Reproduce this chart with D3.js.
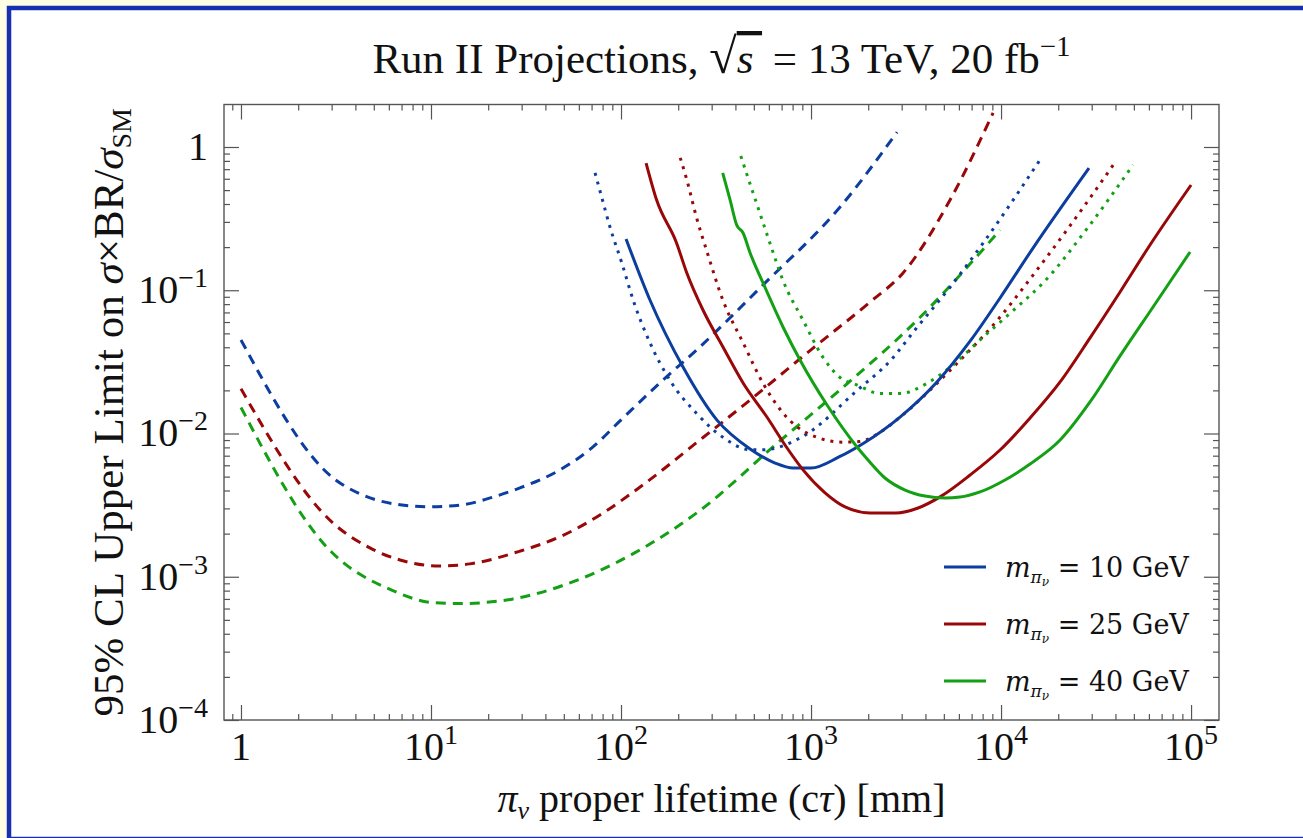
<!DOCTYPE html>
<html>
<head>
<meta charset="utf-8">
<script src="https://cdn.jsdelivr.net/npm/d3@7"></script>
<style>
  body { margin: 0; background: #fffde3; }
  text { font-family: "Liberation Serif", "Times New Roman", serif; fill: #111; }
</style>
</head>
<body>
<div id="chart"></div>
<script>
// ---- data (c*tau in mm, limit on sigma x BR / sigma_SM) ----
// m = 10 GeV
const solid10X  = [106.3, 142, 212, 320, 478, 647, 804, 1000, 1403, 1900, 2940, 4550, 6950, 9880, 14730, 29040];
const solid10Y  = [0.228, 0.0855, 0.0291, 0.0124, 0.0078, 0.00622, 0.00574, 0.00574, 0.00686, 0.00859, 0.01303, 0.02254, 0.045, 0.0883, 0.197, 0.713];
const dashed10X = [1, 3.05, 4.23, 6.87, 9.88, 14.7, 20.5, 29.4, 47.7, 71.2, 98.8, 160, 260, 559, 1422, 2836];
const dashed10Y = [0.045, 0.0049, 0.00379, 0.00318, 0.00308, 0.00318, 0.00355, 0.00417, 0.00557, 0.00806, 0.01224, 0.02255, 0.0402, 0.1089, 0.381, 1.27];
const dotted10X = [73, 79, 87.5, 101, 116, 142, 181, 250, 344, 480, 560, 900, 1750, 2600, 3610, 5390, 8040, 16000];
const dotted10Y = [0.66, 0.45, 0.276, 0.155, 0.085, 0.043, 0.0235, 0.0138, 0.0094, 0.0077, 0.0077, 0.0095, 0.02, 0.032, 0.055, 0.105, 0.213, 0.81];
// m = 25 GeV
const solid25X  = [135.5, 154, 196, 222, 270, 344, 439, 586, 748, 908, 1185, 1510, 2046, 2800, 3660, 4775, 6870, 9880, 14220, 20460, 29400, 42300, 60800, 100000];
const solid25Y  = [0.773, 0.426, 0.214, 0.132, 0.0728, 0.0402, 0.02254, 0.01303, 0.00792, 0.00557, 0.00385, 0.00307, 0.00279, 0.00279, 0.00302, 0.00361, 0.00513, 0.00767, 0.01283, 0.0229, 0.0465, 0.0973, 0.207, 0.543];
const dashed25X = [1, 3.05, 4.77, 6.87, 11.1, 16.0, 29.4, 47.7, 77.5, 126, 260, 478, 1025, 2046, 3050, 5390, 9080];
const dashed25Y = [0.0205, 0.00237, 0.00159, 0.00131, 0.00119, 0.00123, 0.00151, 0.0019, 0.0027, 0.00423, 0.009, 0.01714, 0.0395, 0.0828, 0.132, 0.427, 1.73];
const dotted25X = [205, 222, 250, 282, 344, 439, 559, 775, 1075, 1473, 1800, 2390, 2940, 5390, 9880, 14700, 22200, 39800];
const dotted25Y = [0.84, 0.59, 0.32, 0.19, 0.085, 0.043, 0.0224, 0.0123, 0.0094, 0.0087, 0.0088, 0.0105, 0.013, 0.0276, 0.065, 0.127, 0.263, 0.78];
// m = 40 GeV
const solid40X  = [343, 375, 406, 439, 478, 559, 712, 875, 1214, 1746, 1995, 2450, 3125, 3980, 5070, 6085, 7750, 10500, 14220, 20460, 29400, 42300, 63100, 98800];
const solid40Y  = [0.659, 0.427, 0.286, 0.251, 0.182, 0.1124, 0.0554, 0.0326, 0.0158, 0.00805, 0.00653, 0.00489, 0.00403, 0.00366, 0.00355, 0.0036, 0.00391, 0.00474, 0.00612, 0.009, 0.0166, 0.0348, 0.0764, 0.185];
const dashed40X = [1, 2.84, 6.3, 10.2, 14.2, 27, 52, 116, 260, 687, 1473, 3615, 9880];
const dashed40Y = [0.0152, 0.0016, 0.0008, 0.00066, 0.00065, 0.0007, 0.00089, 0.00145, 0.0029, 0.0089, 0.021, 0.0617, 0.263];
const dotted40X = [427, 466, 509, 608, 712, 908, 1156, 1421, 1750, 2310, 2940, 4080, 5390, 8040, 12100, 16600, 28400, 49500];
const dotted40Y = [0.865, 0.61, 0.43, 0.213, 0.117, 0.0617, 0.034, 0.0246, 0.0218, 0.019, 0.019, 0.0224, 0.029, 0.047, 0.076, 0.112, 0.27, 0.75];

const masses = ["10", "25", "40"];
const xMajor = [1, 10, 100, 1000, 10000, 100000];
const xExp   = [0, 1, 2, 3, 4, 5];
const yMajor = [1, 0.1, 0.01, 0.001, 0.0001];
const yExp   = [0, -1, -2, -3, -4];

// ---- layout ----
const width = 1303, height = 838;
const plotL = 224, plotR = 1219, plotT = 104.5, plotB = 720;
const colors = { "10": "#0b3e9e", "25": "#990808", "40": "#14a014" };
const dashes = { solid: null, dashed: "10,7", dotted: "3,6" };

const x = d3.scaleLog().domain([0.814, 140300]).range([plotL, plotR]);
const y = d3.scaleLog().domain([1e-4, 1.98]).range([plotB, plotT]);

const svg = d3.select("#chart").append("svg").attr("width", width).attr("height", height);

// page background and blue frame
svg.append("rect").attr("width", width).attr("height", height).attr("fill", "#fffde3");
svg.append("rect").attr("x", 9).attr("y", 8).attr("width", 1320).attr("height", 831)
  .attr("fill", "#fff").attr("stroke", "#1630b0").attr("stroke-width", 4.5);

// clip for curves
svg.append("clipPath").attr("id", "plotclip").append("rect")
  .attr("x", plotL).attr("y", plotT).attr("width", plotR - plotL).attr("height", plotB - plotT);

// minor tick values
function minors(scale) {
  const d = scale.domain(), lo = Math.floor(Math.log10(d3.min(d))), hi = Math.ceil(Math.log10(d3.max(d)));
  const out = [];
  for (let e = lo; e <= hi; e++) for (let m = 2; m <= 9; m++) {
    const v = m * Math.pow(10, e);
    if (v >= d3.min(d) && v <= d3.max(d)) out.push(v);
  }
  return out;
}
const xMinor = minors(x), yMinor = minors(y);

function drawAxis(axis, tx, ty, values, size) {
  const g = svg.append("g").attr("transform", "translate(" + tx + "," + ty + ")")
    .call(axis.tickValues(values).tickSize(size).tickFormat(""));
  g.select(".domain").remove();
  g.selectAll("line").attr("stroke", "#555").attr("stroke-width", 1.2);
}
drawAxis(d3.axisBottom(x), 0, plotB, xMajor, -15);
drawAxis(d3.axisBottom(x), 0, plotB, xMinor, -6);
drawAxis(d3.axisTop(x), 0, plotT, xMajor, -15);
drawAxis(d3.axisTop(x), 0, plotT, xMinor, -6);
drawAxis(d3.axisLeft(y), plotL, 0, yMajor, -15);
drawAxis(d3.axisLeft(y), plotL, 0, yMinor, -6);
drawAxis(d3.axisRight(y), plotR, 0, yMajor, -15);
drawAxis(d3.axisRight(y), plotR, 0, yMinor, -6);

svg.append("rect").attr("x", plotL).attr("y", plotT).attr("width", plotR - plotL).attr("height", plotB - plotT)
  .attr("fill", "none").attr("stroke", "#555").attr("stroke-width", 1.4);

// tick labels with superscripts
function powerLabel(sel, e) {
  if (e === 0) { sel.text("1"); return; }
  sel.append("tspan").text("10");
  sel.append("tspan").attr("dy", -16).attr("font-size", 28).text(String(e).replace("-", "\u2212"));
}
xMajor.forEach(function(v, i) {
  const t = svg.append("text").attr("x", x(v)).attr("y", 760).attr("text-anchor", "middle").attr("font-size", 40);
  powerLabel(t, xExp[i]);
});
yMajor.forEach(function(v, i) {
  const t = svg.append("text").attr("x", 208).attr("y", y(v) + 13).attr("text-anchor", "end").attr("font-size", 40);
  powerLabel(t, yExp[i]);
});

// curves
const line = d3.line().x(d => x(d[0])).y(d => y(d[1])).curve(d3.curveMonotoneX);
const series = [
  { m: "10", style: "dashed", xs: dashed10X, ys: dashed10Y },
  { m: "25", style: "dashed", xs: dashed25X, ys: dashed25Y },
  { m: "40", style: "dashed", xs: dashed40X, ys: dashed40Y },
  { m: "10", style: "dotted", xs: dotted10X, ys: dotted10Y },
  { m: "25", style: "dotted", xs: dotted25X, ys: dotted25Y },
  { m: "40", style: "dotted", xs: dotted40X, ys: dotted40Y },
  { m: "10", style: "solid", xs: solid10X, ys: solid10Y },
  { m: "25", style: "solid", xs: solid25X, ys: solid25Y },
  { m: "40", style: "solid", xs: solid40X, ys: solid40Y }
];
svg.append("g").attr("clip-path", "url(#plotclip)")
  .selectAll("path").data(series).enter().append("path")
  .attr("d", s => line(s.xs.map((v, i) => [v, s.ys[i]])))
  .attr("fill", "none")
  .attr("stroke", s => colors[s.m])
  .attr("stroke-width", 3)
  .attr("stroke-dasharray", s => dashes[s.style]);

// legend
const legend = svg.append("g").selectAll("g").data(masses).enter().append("g")
  .attr("transform", (d, i) => "translate(944," + (567 + i * 57) + ")");
legend.append("line").attr("x1", 0).attr("x2", 42).attr("stroke", d => colors[d]).attr("stroke-width", 3);
const lt = legend.append("text").attr("x", 61).attr("y", 10)
  .style("font-family", "'DejaVu Serif', serif").attr("font-size", 27);
lt.append("tspan").attr("font-style", "italic").text("m");
lt.append("tspan").attr("font-style", "italic").attr("font-size", 17).attr("dy", 6).text("\u03c0");
lt.append("tspan").attr("font-style", "italic").attr("font-size", 12).attr("dy", 3).text("\u03bd");
lt.append("tspan").attr("dy", -9).text(d => " = " + d + " GeV");

// title
const title = svg.append("text").attr("x", (plotL + plotR) / 2).attr("y", 73)
  .attr("text-anchor", "middle").attr("font-size", 43);
title.append("tspan").text("Run II Projections, ");
title.append("tspan").attr("font-size", 50).text("\u221a");
title.append("tspan").attr("font-style", "italic").style("text-decoration", "overline").text("s\u2009");
title.append("tspan").text(" = 13 TeV, 20 fb");
title.append("tspan").attr("dy", -17).attr("font-size", 29).text("\u22121");

// axis titles
const xt = svg.append("text").attr("x", (plotL + plotR) / 2).attr("y", 812)
  .attr("text-anchor", "middle").attr("font-size", 40);
xt.append("tspan").attr("font-style", "italic").text("\u03c0");
xt.append("tspan").attr("font-style", "italic").attr("font-size", 26).attr("dy", 7).text("\u03bd");
xt.append("tspan").attr("dy", -7).text(" proper lifetime (c");
xt.append("tspan").attr("font-style", "italic").text("\u03c4");
xt.append("tspan").text(") [mm]");

const yt = svg.append("text").attr("transform", "translate(123," + ((plotT + plotB) / 2) + ") rotate(-90)")
  .attr("text-anchor", "middle").attr("font-size", 43);
yt.append("tspan").text("95% CL Upper Limit on ");
yt.append("tspan").attr("font-style", "italic").text("\u03c3");
yt.append("tspan").text("\u00d7BR/");
yt.append("tspan").attr("font-style", "italic").text("\u03c3");
yt.append("tspan").attr("font-size", 28).attr("dy", 8).text("SM");
</script>
</body>
</html>
